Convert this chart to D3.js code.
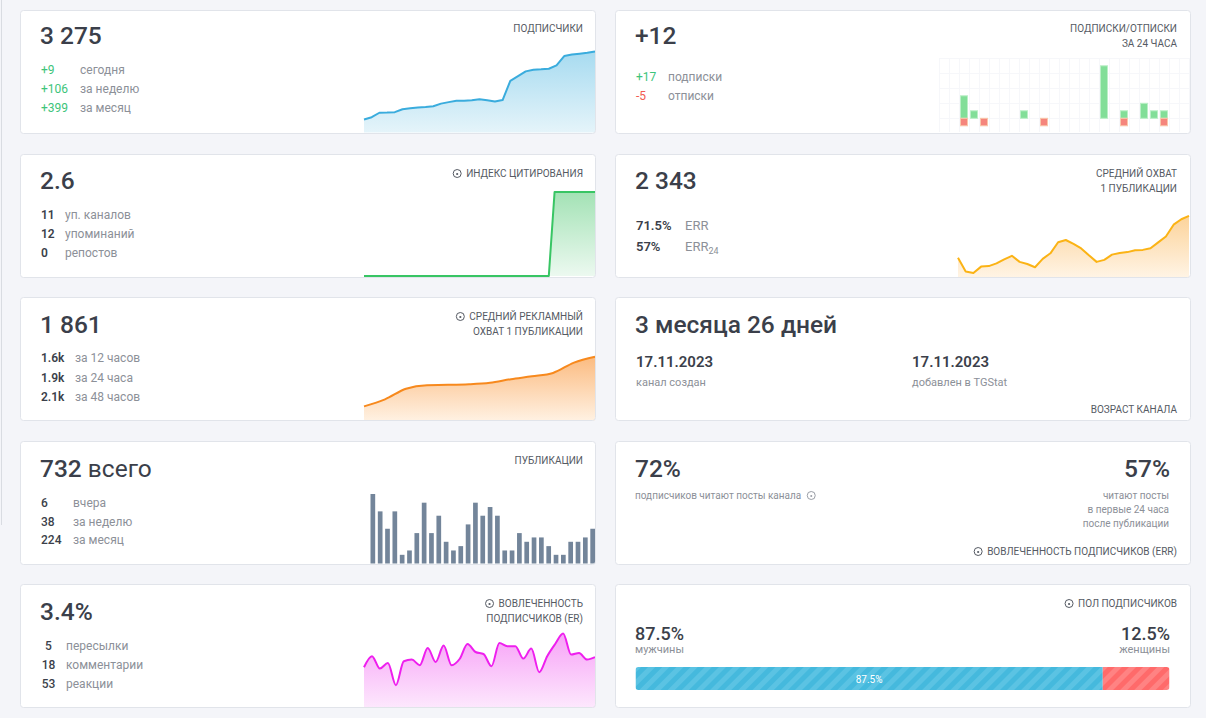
<!DOCTYPE html>
<html><head><meta charset="utf-8">
<script src="https://cdn.jsdelivr.net/npm/d3@7"></script>
<style>
html,body{margin:0;padding:0;background:#f4f5f9;}
svg{display:block;font-family:Roboto,"Noto Sans",sans-serif;}
</style></head><body>
<svg id="c" width="1206" height="718"></svg>
<script>
// ---------- DATA ----------
const subscribersDaily = [2910,2922,2946,2947,2949,2965,2970,2974,2977,2981,2995,3003,3010,3011,3013,3019,3013,3006,3014,3117,3142,3168,3177,3179,3182,3200,3250,3258,3263,3268,3275];
const subscribeStats = [["+9","сегодня"],["+106","за неделю"],["+399","за месяц"]];
const hourlySubs   = [0,0,3,1,0,0,0,0,1,0,0,0,0,0,0,0,7,0,1,0,2,1,1,0,0];
const hourlyUnsubs = [0,0,1,0,1,0,0,0,0,0,1,0,0,0,0,0,0,0,1,0,0,0,1,0,0];
const citationIndex = [0,0,0,0,0,0,0,0,0,0,0,0,0,0,0,0,0,0,0,0,0,0,0,0,0,0,0,0,0,0,0,0,0,2.6,2.6,2.6,2.6,2.6,2.6,2.6,2.6];
const citationStats = [["11","уп. каналов"],["12","упоминаний"],["0","репостов"]];
const avgReach = [1894,1620,1588,1716,1726,1780,1860,1930,1810,1768,1704,1870,1980,2200,2244,2166,2076,1940,1810,1850,1954,1988,2004,2042,2048,2080,2196,2314,2548,2656,2724];
const adReach = [1241,1361,1541,1603,1608,1619,1645,1705,1753,1811,1988,2088];
const adReachStats = [["1.6k","за 12 часов"],["1.9k","за 24 часа"],["2.1k","за 48 часов"]];
const postsDaily = [16,12,8,12,2,3,7,14,7,11,5,3,4,9,14,11,13,11,3,3,7,5,6,6,4,2,2,5,5,6,8];
const postsStats = [["6","вчера"],["38","за неделю"],["224","за месяц"]];
const erSeries = [2.04,2.59,1.97,2.25,1.14,2.34,2.42,2.14,3.0,2.3,3.12,2.14,2.45,3.2,2.8,2.7,2.09,3.25,3.09,3.09,2.47,2.97,1.79,2.59,3.2,3.72,2.67,2.75,2.42,2.54];
const erStats = [["5","пересылки"],["18","комментарии"],["53","реакции"]];
const genderShare = [["мужчины",87.5],["женщины",12.5]];

// ---------- SETUP ----------
const svg = d3.select('#c');
const COL = {big:'#3b3f4a', gray:'#8c9098', label:'#555a63', green:'#3dc47a', red:'#f25b52', border:'#e1e4ea'};
const CW = 575, CH = 123;
const defs = svg.append('defs');
function grad(id, top, bottom){
  const g = defs.append('linearGradient').attr('id',id).attr('x1',0).attr('y1',0).attr('x2',0).attr('y2',1);
  g.append('stop').attr('offset','0%').attr('stop-color',top);
  g.append('stop').attr('offset','100%').attr('stop-color',bottom);
}
grad('gBlue','#a7dbf0','#e5f4fa');
grad('gGreen','#a3e2b5','#ecf9f0');
grad('gAmber','#fcd39a','#fff4e5');
grad('gOrange','#fbbb80','#fff1e2');
grad('gPink','#f7a2f7','#fde8fd');
function stripes(id, base, stripe){
  const p = defs.append('pattern').attr('id',id).attr('patternUnits','userSpaceOnUse')
    .attr('width',10).attr('height',10).attr('patternTransform','rotate(45)');
  p.append('rect').attr('width',10).attr('height',10).attr('fill',base);
  p.append('rect').attr('width',5).attr('height',10).attr('fill',stripe);
}
stripes('sBlue','#45b9dd','#5bc3e3');
stripes('sRed','#ff6a6a','#ff8383');

svg.append('rect').attr('width',1206).attr('height',718).attr('fill','#f4f5f9');
svg.append('line').attr('x1',1.5).attr('x2',1.5).attr('y1',0).attr('y2',525).attr('stroke','#d9dce2');

const cardPos = [[20,10],[615,10],[20,154],[615,154],[20,297],[615,297],[20,441],[615,441],[20,584],[615,584]];
cardPos.forEach(([x,y])=>{
  svg.append('rect').attr('x',x+0.5).attr('y',y+0.5).attr('width',CW).attr('height',CH).attr('rx',3).attr('fill','#fff');
});
const layer = svg.append('g');

function big(x,y,t,anchor){
  return layer.append('text').attr('x',x).attr('y',y).attr('font-size',24.5).attr('font-weight',500)
    .attr('fill',COL.big).attr('text-anchor',anchor||'start').text(t);
}
function icon(cx,cy){
  layer.append('circle').attr('cx',cx).attr('cy',cy).attr('r',4).attr('fill','none').attr('stroke','#555a63').attr('stroke-width',1);
  layer.append('circle').attr('cx',cx).attr('cy',cy+0.5).attr('r',1.1).attr('fill','#555a63');
}
function label(xr, y, lines, withIcon){
  lines.forEach((l,i)=>{
    const t = layer.append('text').attr('x',xr).attr('y',y+i*15).attr('font-size',10).attr('fill',COL.label)
      .attr('text-anchor','end').text(l);
    if(withIcon && i===0){
      const w = t.node().getComputedTextLength();
      icon(xr - w - 9, y - 3.5);
    }
  });
}
function stats(rows, y0, dy, nx, lx, ncolor, nweight, nanchor, fs){
  rows.forEach((r,i)=>{
    layer.append('text').attr('x',nx).attr('y',y0+i*dy).attr('font-size',fs||12).attr('font-weight',nweight)
      .attr('fill',ncolor).attr('text-anchor',nanchor||'start').text(r[0]);
    layer.append('text').attr('x',lx).attr('y',y0+i*dy).attr('font-size',fs||12).attr('fill',COL.gray).text(r[1]);
  });
}
function areaChart(data, x0, x1, dom, y0px, y1px, color, gid, curve){
  const x = d3.scaleLinear().domain([0,data.length-1]).range([x0,x1]);
  const y = d3.scaleLinear().domain(dom).range([y0px,y1px]);
  layer.append('path').datum(data).attr('fill',`url(#${gid})`)
    .attr('d', d3.area().x((d,i)=>x(i)).y0(y0px).y1(d=>y(d)).curve(curve));
  layer.append('path').datum(data).attr('fill','none').attr('stroke',color).attr('stroke-width',2)
    .attr('stroke-linejoin','round')
    .attr('d', d3.line().x((d,i)=>x(i)).y(d=>y(d)).curve(curve));
}

// ---------- CARD 1: subscribers ----------
big(40,44,'3 275');
label(583,32,['ПОДПИСЧИКИ']);
stats(subscribeStats,74,19,41,80,COL.green,400);
areaChart(subscribersDaily,364,595,[2840,3280],132.5,50.5,'#3aacdd','gBlue',d3.curveLinear);

// ---------- CARD 2: subs/unsubs 24h ----------
big(635,44,'+12');
label(1177,32,['ПОДПИСКИ/ОТПИСКИ','ЗА 24 ЧАСА']);
layer.append('text').attr('x',636).attr('y',81).attr('font-size',12).attr('fill',COL.green).text('+17');
layer.append('text').attr('x',668).attr('y',81).attr('font-size',12).attr('fill',COL.gray).text('подписки');
layer.append('text').attr('x',636).attr('y',100).attr('font-size',12).attr('fill',COL.red).text('-5');
layer.append('text').attr('x',668).attr('y',100).attr('font-size',12).attr('fill',COL.gray).text('отписки');
{
  const hours = d3.range(hourlySubs.length);
  const x = d3.scaleBand().domain(hours).range([939,1189]).paddingInner(0.3).paddingOuter(0.15);
  const y = d3.scaleLinear().domain([-1,8]).range([125.8,58.3]);
  const grid = layer.append('g').attr('stroke','#f6f7fa').attr('stroke-width',1);
  d3.range(hours.length+1).forEach(i=>{
    const gx = Math.round(939 + i*x.step())+0.5;
    grid.append('line').attr('x1',gx).attr('x2',gx).attr('y1',58).attr('y2',132);
  });
  [0,2,4,6,8].forEach(v=>{
    grid.append('line').attr('x1',939).attr('x2',1189).attr('y1',Math.round(y(v))+0.5).attr('y2',Math.round(y(v))+0.5);
  });
  layer.selectAll('rect.sub').data(hourlySubs.map((v,i)=>({v,i})).filter(d=>d.v>0)).enter().append('rect')
    .attr('x',d=>x(d.i)).attr('width',x.bandwidth()).attr('y',d=>y(d.v)).attr('height',d=>y(0)-y(d.v))
    .attr('fill','#82de98').attr('stroke','#b9efc6').attr('stroke-width',1);
  layer.selectAll('rect.uns').data(hourlyUnsubs.map((v,i)=>({v,i})).filter(d=>d.v>0)).enter().append('rect')
    .attr('x',d=>x(d.i)).attr('width',x.bandwidth()).attr('y',y(0)).attr('height',d=>y(-d.v)-y(0))
    .attr('fill','#f5857c').attr('stroke','#f9c7aa').attr('stroke-width',1);
}

// ---------- CARD 3: citation index ----------
big(40,189,'2.6');
label(583,177,['ИНДЕКС ЦИТИРОВАНИЯ'],true);
stats(citationStats,219,19,41,65,COL.big,600);
areaChart(citationIndex,364,595,[0,2.6],276,192,'#38c564','gGreen',d3.curveLinear);

// ---------- CARD 4: avg reach ----------
big(635,189,'2 343');
label(1177,177,['СРЕДНИЙ ОХВАТ','1 ПУБЛИКАЦИИ']);
layer.append('text').attr('x',636).attr('y',230).attr('font-size',13).attr('font-weight',600).attr('fill',COL.big).text('71.5%');
layer.append('text').attr('x',685).attr('y',230).attr('font-size',13).attr('fill',COL.gray).text('ERR');
layer.append('text').attr('x',636).attr('y',251).attr('font-size',13).attr('font-weight',600).attr('fill',COL.big).text('57%');
{
  const t = layer.append('text').attr('x',685).attr('y',251).attr('font-size',13).attr('fill',COL.gray).text('ERR');
  t.append('tspan').attr('font-size',9).attr('dy',3).text('24');
}
areaChart(avgReach,958,1189,[1500,2740],277.5,215,'#fbb315','gAmber',d3.curveLinear);

// ---------- CARD 5: ad reach ----------
big(40,333,'1 861');
label(583,320,['СРЕДНИЙ РЕКЛАМНЫЙ','ОХВАТ 1 ПУБЛИКАЦИИ'],true);
stats(adReachStats,362,19.5,41,75,COL.big,600);
areaChart(adReach,364,595,[1000,2100],420.5,356,'#f7891d','gOrange',d3.curveMonotoneX);

// ---------- CARD 6: channel age ----------
big(635,333,'3 месяца 26 дней');
[[636,'17.11.2023','канал создан'],[912,'17.11.2023','добавлен в TGStat']].forEach(([x,d,l])=>{
  layer.append('text').attr('x',x).attr('y',367).attr('font-size',15).attr('font-weight',600).attr('fill',COL.big).text(d);
  layer.append('text').attr('x',x).attr('y',386).attr('font-size',11).attr('fill',COL.gray).text(l);
});
label(1177,413,['ВОЗРАСТ КАНАЛА']);

// ---------- CARD 7: publications ----------
{
  const t = big(40,477,'732');
  t.append('tspan').attr('font-weight',400).text(' всего');
}
label(583,464,['ПУБЛИКАЦИИ']);
stats(postsStats,507,18.5,41,73,COL.big,500);
{
  const x = d3.scaleBand().domain(d3.range(postsDaily.length)).range([370.5,595]).paddingInner(0.36).paddingOuter(0);
  const y = d3.scaleLinear().domain([0,16]).range([563.5,494]);
  layer.selectAll('rect.post').data(postsDaily).enter().append('rect')
    .attr('x',(d,i)=>x(i)).attr('width',x.bandwidth()).attr('y',d=>y(d)).attr('height',d=>y(0)-y(d))
    .attr('fill','#73859a');
}

// ---------- CARD 8: ERR ----------
big(635,477,'72%');
big(1170,477,'57%','end');
{
  const t = layer.append('text').attr('x',635).attr('y',499).attr('font-size',10).attr('fill',COL.gray).text('подписчиков читают посты канала');
  const w = t.node().getComputedTextLength();
  layer.append('circle').attr('cx',635+w+10).attr('cy',495.5).attr('r',4).attr('fill','none').attr('stroke','#9a9ea6');
  layer.append('circle').attr('cx',635+w+10).attr('cy',496).attr('r',1).attr('fill','#9a9ea6');
}
['читают посты','в первые 24 часа','после публикации'].forEach((l,i)=>{
  layer.append('text').attr('x',1169).attr('y',499+i*14).attr('font-size',10).attr('fill',COL.gray).attr('text-anchor','end').text(l);
});
label(1177,555,['ВОВЛЕЧЕННОСТЬ ПОДПИСЧИКОВ (ERR)'],true);

// ---------- CARD 9: ER ----------
big(40,620,'3.4%');
label(583,607,['ВОВЛЕЧЕННОСТЬ','ПОДПИСЧИКОВ (ER)'],true);
stats(erStats,650,19,48.5,66,COL.big,500,'middle');
areaChart(erSeries,364,595,[0,4],708,628,'#ee1fee','gPink',d3.curveMonotoneX);

// ---------- CARD 10: gender ----------
label(1177,607,['ПОЛ ПОДПИСЧИКОВ'],true);
layer.append('text').attr('x',635).attr('y',640).attr('font-size',18).attr('font-weight',500).attr('fill',COL.big).text(genderShare[0][1]+'%');
layer.append('text').attr('x',635).attr('y',653).attr('font-size',11).attr('fill',COL.gray).text(genderShare[0][0]);
layer.append('text').attr('x',1170).attr('y',640).attr('font-size',18).attr('font-weight',500).attr('fill',COL.big).attr('text-anchor','end').text(genderShare[1][1]+'%');
layer.append('text').attr('x',1170).attr('y',653).attr('font-size',11).attr('fill',COL.gray).attr('text-anchor','end').text(genderShare[1][0]);
{
  const x = d3.scaleLinear().domain([0,100]).range([635.5,1169.5]);
  const clip = defs.append('clipPath').attr('id','barClip');
  clip.append('rect').attr('x',x(0)).attr('y',667).attr('width',x(100)-x(0)).attr('height',23).attr('rx',3);
  const g = layer.append('g').attr('clip-path','url(#barClip)');
  let acc = 0;
  genderShare.forEach((d,i)=>{
    g.append('rect').attr('x',x(acc)).attr('y',667).attr('width',x(acc+d[1])-x(acc)).attr('height',23)
      .attr('fill', i===0?'url(#sBlue)':'url(#sRed)');
    acc += d[1];
  });
  layer.append('text').attr('x',(x(0)+x(genderShare[0][1]))/2).attr('y',682.5).attr('font-size',10)
    .attr('fill','#fff').attr('text-anchor','middle').text(genderShare[0][1]+'%');
}

// card borders on top
cardPos.forEach(([x,y])=>{
  svg.append('rect').attr('x',x+0.5).attr('y',y+0.5).attr('width',CW).attr('height',CH).attr('rx',3)
    .attr('fill','none').attr('stroke',COL.border);
});
</script>
</body></html>
